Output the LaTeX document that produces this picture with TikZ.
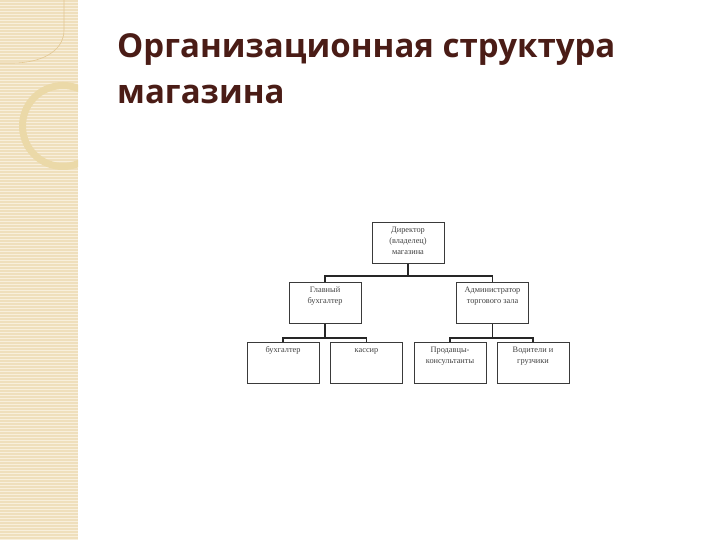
\documentclass[tikz,border=0pt]{standalone}
\usepackage{fontspec}
\setmainfont{Liberation Serif}
\newfontfamily\titlefont{Open Sans}
\usetikzlibrary{calc}
\definecolor{stripbg}{HTML}{EFDFBC}
\definecolor{stripln}{HTML}{F8EFDC}
\definecolor{ringc}{HTML}{EBD9A8}
\definecolor{titlec}{HTML}{4A1C16}
\definecolor{boxline}{HTML}{3A3A3A}
\definecolor{boxtext}{HTML}{404040}
\tikzset{
  every picture/.style={x=1pt, y=-1pt},
  orgbox/.style={draw=boxline, line width=0.8pt, anchor=north, inner xsep=2pt, inner ysep=2pt,
    font=\fontsize{8.3}{11}\selectfont, text=boxtext},
  link/.style={draw=black!85, line width=1.5pt},
}
\newcommand{\bt}[1]{\parbox[t][37pt][t]{68pt}{\centering\strut #1}}
\begin{document}
\begin{tikzpicture}
  \useasboundingbox (0,0) rectangle (720,540);
  % decorative strip on the left
  \fill[stripbg] (0,0) rectangle (78,540);
  \foreach \y in {2,5,...,540}
    \draw[stripln, line width=0.7pt] (0,\y) -- (78,\y);
  \begin{scope}
    \clip (0,0) rectangle (78,540);
    \fill[ringc, even odd rule] (63,126) circle (44) (63,126) circle (37);
  \end{scope}
  \draw[ringc!80!brown, line width=0.6pt] (64,0) -- (64,30) .. controls (64,52) and (40,63) .. (13,63) -- (0,63);
  % title
  \node[anchor=north west, align=left, font=\titlefont\bfseries\fontsize{33}{46}\selectfont, text=titlec,
    inner sep=0pt] (title) at (117,33) {Организационная структура\\магазина};
  % boxes
  \node[orgbox] (dir) at (408,222) {\bt{Директор\\(владелец)\\магазина}};
  \node[orgbox] (glbuh) at (325,282) {\bt{Главный\\бухгалтер}};
  \node[orgbox] (admin) at (492.5,282) {\bt{Администратор\\торгового зала}};
  \node[orgbox] (buh) at (283,342) {\bt{бухгалтер}};
  \node[orgbox] (kas) at (366.5,342) {\bt{кассир}};
  \node[orgbox] (prod) at (450,342) {\bt{Продавцы-\\консультанты}};
  \node[orgbox] (vod) at (533,342) {\bt{Водители и\\грузчики}};
  % connectors
  \coordinate (j1) at ($(dir.south)+(0,12)$);
  \coordinate (j2) at ($(glbuh.south)+(0,14)$);
  \coordinate (j3) at ($(admin.south)+(0,14)$);
  \draw[link] (dir.south) -- (j1);
  \draw[link] (glbuh.north) |- (j1) -| (admin.north);
  \draw[link] (glbuh.south) -- (j2);
  \draw[link] (buh.north) |- (j2) -| (kas.north);
  \draw[link] (admin.south) -- (j3);
  \draw[link] (prod.north) |- (j3) -| (vod.north);
\end{tikzpicture}
\end{document}
